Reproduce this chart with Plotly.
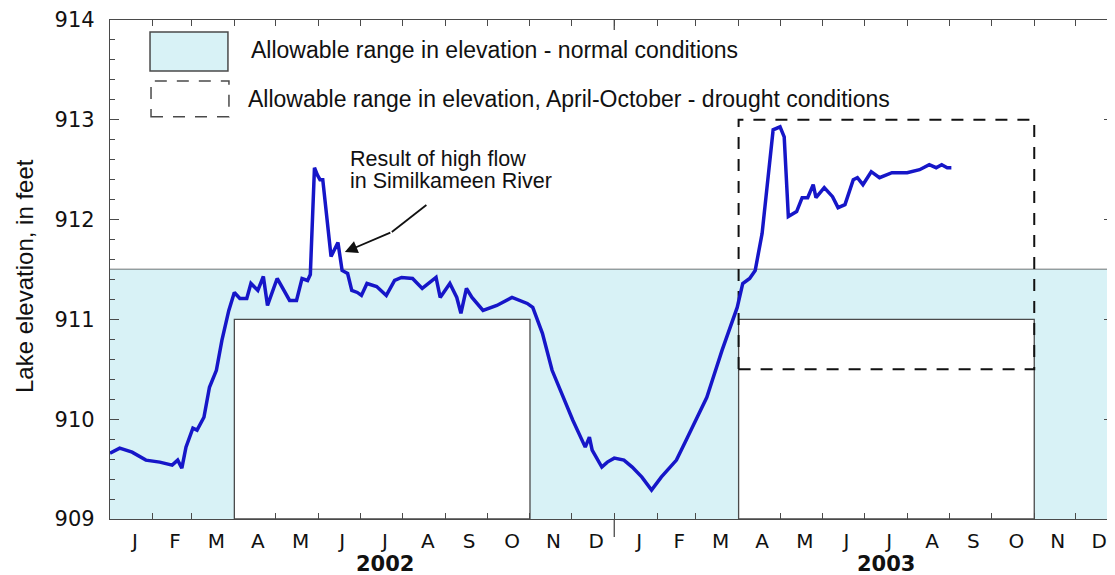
import plotly.graph_objects as go

# ---------------- data ----------------
dates = [
    "2002-01-01", "2002-01-08", "2002-01-17", "2002-01-27", "2002-02-06", "2002-02-15",
    "2002-02-19", "2002-02-22", "2002-02-25", "2002-03-02", "2002-03-05", "2002-03-10",
    "2002-03-14", "2002-03-19", "2002-03-23", "2002-03-28", "2002-04-01", "2002-04-05",
    "2002-04-10", "2002-04-13", "2002-04-18", "2002-04-22", "2002-04-25", "2002-05-02",
    "2002-05-11", "2002-05-16", "2002-05-20", "2002-05-24", "2002-05-26", "2002-05-29",
    "2002-05-31", "2002-06-02", "2002-06-04", "2002-06-10", "2002-06-15", "2002-06-18",
    "2002-06-22", "2002-06-25", "2002-06-29", "2002-07-02", "2002-07-06", "2002-07-13",
    "2002-07-20", "2002-07-26", "2002-07-31", "2002-08-08", "2002-08-15", "2002-08-25",
    "2002-08-28", "2002-09-04", "2002-09-09", "2002-09-12", "2002-09-16", "2002-09-20",
    "2002-09-28", "2002-10-08", "2002-10-19", "2002-10-30", "2002-11-03", "2002-11-10",
    "2002-11-17", "2002-11-25", "2002-12-02", "2002-12-11", "2002-12-14", "2002-12-16",
    "2002-12-23", "2002-12-27", "2003-01-01", "2003-01-08", "2003-01-14", "2003-01-21",
    "2003-01-28", "2003-02-04", "2003-02-15", "2003-02-22", "2003-03-04", "2003-03-09",
    "2003-03-13", "2003-03-20", "2003-03-31", "2003-04-04", "2003-04-09", "2003-04-13",
    "2003-04-18", "2003-04-22", "2003-04-26", "2003-05-01", "2003-05-04", "2003-05-07",
    "2003-05-13", "2003-05-17", "2003-05-21", "2003-05-25", "2003-05-27", "2003-06-02",
    "2003-06-08", "2003-06-12", "2003-06-17", "2003-06-23", "2003-06-26", "2003-06-30",
    "2003-07-06", "2003-07-12", "2003-07-21", "2003-08-01", "2003-08-10", "2003-08-17",
    "2003-08-22", "2003-08-26", "2003-08-30", "2003-09-02",
]
elevation = [
    909.66, 909.71, 909.67, 909.59, 909.57, 909.54,
    909.59, 909.51, 909.72, 909.91, 909.89, 910.02,
    910.32, 910.49, 910.79, 911.09, 911.27, 911.21,
    911.21, 911.36, 911.29, 911.43, 911.14, 911.41,
    911.19, 911.19, 911.41, 911.39, 911.45, 912.52,
    912.45, 912.40, 912.40, 911.63, 911.77, 911.49,
    911.46, 911.29, 911.27, 911.24, 911.36, 911.33,
    911.24, 911.39, 911.42, 911.41, 911.31, 911.42,
    911.22, 911.36, 911.22, 911.06, 911.31, 911.22,
    911.09, 911.14, 911.22, 911.16, 911.12, 910.86,
    910.49, 910.22, 909.99, 909.72, 909.82, 909.69,
    909.52, 909.57, 909.61, 909.59, 909.52, 909.42,
    909.29, 909.42, 909.59, 909.79, 910.09, 910.22,
    910.39, 910.69, 911.12, 911.36, 911.41, 911.49,
    911.86, 912.37, 912.90, 912.93, 912.83, 912.03,
    912.08, 912.22, 912.22, 912.35, 912.22, 912.32,
    912.23, 912.12, 912.15, 912.40, 912.42, 912.35,
    912.48, 912.42, 912.47, 912.47, 912.50, 912.55,
    912.52, 912.55, 912.52, 912.52,
]

month_starts = [
    "2002-01-01", "2002-02-01", "2002-03-01", "2002-04-01", "2002-05-01", "2002-06-01",
    "2002-07-01", "2002-08-01", "2002-09-01", "2002-10-01", "2002-11-01", "2002-12-01",
    "2003-01-01", "2003-02-01", "2003-03-01", "2003-04-01", "2003-05-01", "2003-06-01",
    "2003-07-01", "2003-08-01", "2003-09-01", "2003-10-01", "2003-11-01", "2003-12-01",
]
# label positions (slightly right of mid-month, as in the original)
month_label_pos = [
    "2002-01-19", "2002-02-17", "2002-03-19", "2002-04-18", "2002-05-19", "2002-06-18",
    "2002-07-19", "2002-08-19", "2002-09-18", "2002-10-19", "2002-11-18", "2002-12-19",
    "2003-01-19", "2003-02-17", "2003-03-19", "2003-04-18", "2003-05-19", "2003-06-18",
    "2003-07-19", "2003-08-19", "2003-09-18", "2003-10-19", "2003-11-18", "2003-12-18",
]
month_letters = ["J", "F", "M", "A", "M", "J", "J", "A", "S", "O", "N", "D"] * 2
y_ticks = [909, 910, 911, 912, 913, 914]

years = ["2002", "2003"]
year_label_pos = ["2002-07-19", "2003-07-17"]

# allowable ranges
band_top = 911.5                 # top of shaded normal band
summer_floor = 911.0             # Apr-Oct normal minimum
summer_periods = [("2002-04-01", "2002-11-01"), ("2003-04-01", "2003-11-01")]
drought_period = ("2003-04-01", "2003-11-01")
drought_range = (910.5, 913.0)

legend_texts = [
    "Allowable range in elevation - normal conditions",
    "Allowable range in elevation, April-October - drought conditions",
]
note_lines = ["Result of high flow", "in Similkameen River"]

X_RANGE = ["2002-01-01", "2003-12-28"]
Y_RANGE = [909, 914]

CYAN = "#d8f2f6"
LINE_BLUE = "#1616c8"
GREY = "#4a4a4a"
TXT = "#111111"
FONT = "Liberation Sans, Arial, sans-serif"
TICKFONT = "DejaVu Sans, Verdana, sans-serif"

fig = go.Figure()
fig.add_trace(go.Scatter(
    x=dates, y=elevation, mode="lines",
    line=dict(color=LINE_BLUE, width=3.5), hoverinfo="skip", showlegend=False,
))
# dummy trace for the label axis
fig.add_trace(go.Scatter(x=[], y=[], xaxis="x2", yaxis="y", showlegend=False))

shapes = []
shapes.append(dict(type="rect", xref="x", yref="y", x0="2002-01-01", x1="2004-01-01",
                   y0=Y_RANGE[0], y1=band_top, fillcolor=CYAN,
                   line=dict(width=0), layer="below"))
for (a, b) in summer_periods:
    shapes.append(dict(type="rect", xref="x", yref="y", x0=a, x1=b,
                       y0=Y_RANGE[0], y1=summer_floor, fillcolor="white",
                       line=dict(color=GREY, width=1.3), layer="below"))
shapes.append(dict(type="line", xref="paper", yref="y", x0=0, x1=1,
                   y0=band_top, y1=band_top,
                   line=dict(color=GREY, width=1.5), layer="below"))
band_frac = (band_top - Y_RANGE[0]) / (Y_RANGE[1] - Y_RANGE[0])
shapes.append(dict(type="line", xref="x", yref="paper", x0="2003-01-01", x1="2003-01-01",
                   y0=-0.036, y1=band_frac, line=dict(color=GREY, width=1.3), layer="below"))
shapes.append(dict(type="line", xref="x", yref="paper", x0="2003-01-01", x1="2003-01-01",
                   y0=1, y1=1 - 0.02, line=dict(color=GREY, width=1.3)))
shapes.append(dict(type="rect", xref="x", yref="y", x0=drought_period[0], x1=drought_period[1],
                   y0=drought_range[0], y1=drought_range[1], fillcolor="rgba(0,0,0,0)",
                   line=dict(color=TXT, width=2, dash="12px,10px"), layer="below"))
shapes.append(dict(type="rect", xref="paper", yref="paper", x0=0.0399, x1=0.1176,
                   y0=0.898, y1=0.976, fillcolor=CYAN, line=dict(color=GREY, width=1.5)))
shapes.append(dict(type="rect", xref="paper", yref="paper", x0=0.0409, x1=0.1186,
                   y0=0.806, y1=0.878, fillcolor="rgba(0,0,0,0)",
                   line=dict(color=GREY, width=1.5, dash="12px,10px")))
shapes.append(dict(type="line", xref="x", yref="y", x0="2002-07-24", y0=911.876,
                   x1="2002-08-18", y1=912.146, line=dict(color=TXT, width=1.8)))

annotations = []
for i, t in enumerate(legend_texts):
    annotations.append(dict(xref="paper", yref="paper", x=[0.1386, 0.1356][i], y=[0.94, 0.842][i],
                            text=t, showarrow=False, xanchor="left", yanchor="middle",
                            font=dict(family=FONT, size=23, color=TXT)))
for i, t in enumerate(note_lines):
    annotations.append(dict(xref="x", yref="y", x="2002-06-22", y=[912.61, 912.385][i],
                            text=t, showarrow=False, xanchor="left", yanchor="middle",
                            font=dict(family=FONT, size=21.5, color=TXT)))
annotations.append(dict(xref="x", yref="y", x="2002-06-20", y=911.675,
                        axref="x", ayref="y", ax="2002-07-24", ay=911.876, text="",
                        showarrow=True, arrowhead=2, arrowsize=1.4, arrowwidth=1.8,
                        arrowcolor=TXT))
for yr, pos in zip(years, year_label_pos):
    annotations.append(dict(xref="x", yref="paper", x=pos, y=-0.09, text="<b>%s</b>" % yr,
                            showarrow=False, xanchor="center", yanchor="middle",
                            font=dict(family=TICKFONT, size=21, color=TXT)))
annotations.append(dict(xref="paper", yref="paper", x=-0.0847, y=0.487,
                        text="Lake elevation, in feet", textangle=-90, showarrow=False,
                        xanchor="center", yanchor="middle",
                        font=dict(family=FONT, size=24, color=TXT)))

# The page body adds an 8px offset, so the figure is sized/margined to compensate.
fig.update_layout(
    width=1107, height=567,
    margin=dict(l=102, r=2, t=12, b=56, autoexpand=False),
    paper_bgcolor="white", plot_bgcolor="white",
    showlegend=False,
    shapes=shapes, annotations=annotations,
    xaxis=dict(type="date", range=X_RANGE, tickmode="array", tickvals=month_starts,
               ticktext=[""] * len(month_starts), ticks="inside", ticklen=6, tickwidth=1.3,
               tickcolor=GREY, showline=True, linecolor=GREY, linewidth=1.3, mirror="ticks",
               showgrid=False, zeroline=False, automargin=False),
    xaxis2=dict(type="date", range=X_RANGE, overlaying="x", anchor="y", side="bottom",
                tickmode="array", tickvals=month_label_pos, ticktext=month_letters,
                ticks="", showline=False, showgrid=False, zeroline=False, automargin=False,
                tickfont=dict(family=TICKFONT, size=20, color=TXT), ticklabelstandoff=8),
    yaxis=dict(range=Y_RANGE, tickmode="array", tickvals=y_ticks,
               ticks="inside", ticklen=9, tickwidth=1.3, tickcolor=GREY,
               minor=dict(dtick=0.2, tick0=909, ticks="inside", ticklen=5, tickcolor=GREY,
                          tickwidth=1.3),
               showline=True, linecolor=GREY, linewidth=1.3, mirror="ticks",
               showgrid=False, zeroline=False, ticklabelstandoff=10, automargin=False,
               tickfont=dict(family=TICKFONT, size=21, color=TXT)),
)

fig.write_html("out.html")
